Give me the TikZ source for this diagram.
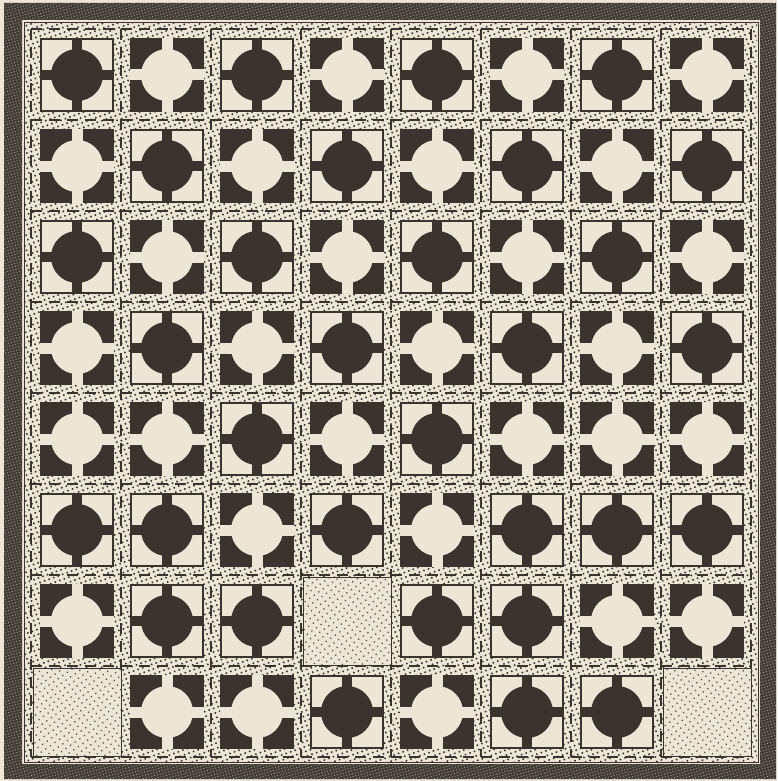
\documentclass[tikz,border=0pt]{standalone}
\usetikzlibrary{patterns.meta}
\definecolor{papier}{HTML}{EDE6D6}
\definecolor{dunkel}{HTML}{3A332E}
\definecolor{rahmen}{HTML}{423C37}
\begin{document}
\begin{tikzpicture}[x=1pt, y=-1pt,
  punkte/.style={pattern={Dots[radius=1.1pt, distance=4.8pt, angle=20]}, pattern color=dunkel},
  feinpunkte/.style={pattern={Dots[radius=0.9pt, distance=5.6pt, angle=35]}, pattern color=dunkel!85!papier},
  schnitt/.style={dunkel, line width=1.3pt, dash pattern=on 11pt off 7pt},
  dstein/.pic={
    \fill[papier] (-37,-37) rectangle (37,37);
    \fill[dunkel] (0,0) circle[radius=26];
    \fill[dunkel] (-5,-37) rectangle (5,37);
    \fill[dunkel] (-37,-5) rectangle (37,5);
    \draw[dunkel, line width=1.6pt] (-36.2,-36.2) rectangle (36.2,36.2);
  },
  hstein/.pic={
    \fill[dunkel] (-37,-37) rectangle (37,37);
    \fill[papier] (0,0) circle[radius=26];
    \fill[papier] (-5.5,-37) rectangle (5.5,37);
    \fill[papier] (-37,-5.5) rectangle (37,5.5);
  },
  leer/.pic={
    \fill[papier] (-44,-44) rectangle (44,44);
    \fill[feinpunkte] (-44,-44) rectangle (44,44);
    \draw[dunkel, line width=0.8pt] (-44,-44) rectangle (44,44);
  }]
  \useasboundingbox (0,0) rectangle (777,781);
  \fill[papier] (0,0) rectangle (777,781);

  % Rahmen
  \fill[rahmen, even odd rule] (4,3) rectangle (776,779) (22,20) rectangle (760,764);
  \fill[pattern={Dots[radius=0.6pt, distance=2.9pt, angle=15]}, pattern color=papier!60!rahmen, even odd rule]
    (4,3) rectangle (776,779) (22,20) rectangle (760,764);
  \draw[dunkel, line width=0.9pt] (24,22) rectangle (758,762);

  % Punktierter Grund
  \fill[punkte] (25,23) rectangle (757,761);

  % Schnittlinien
  \foreach \k in {0,...,8} {
    \draw[schnitt] (31+90*\k,29) -- (31+90*\k,757);
    \draw[schnitt] (31,29+91*\k) -- (751,29+91*\k);
  }

  % Steine: 1 = dunkler Kreis, 2 = heller Kreis, 0 = leer
  \foreach \reihe [count=\j from 0] in {
      {1,2,1,2,1,2,1,2},
      {2,1,2,1,2,1,2,1},
      {1,2,1,2,1,2,1,2},
      {2,1,2,1,2,1,2,1},
      {2,2,1,2,1,2,2,2},
      {1,1,2,1,2,1,1,1},
      {2,1,1,0,1,1,2,2},
      {0,2,2,1,2,1,1,0}} {
    \foreach \t [count=\i from 0] in \reihe {
      \ifnum\t=1 \pic at (77+90*\i,75+91*\j) {dstein};\fi
      \ifnum\t=2 \pic at (77+90*\i,75+91*\j) {hstein};\fi
      \ifnum\t=0 \pic at (77+90*\i,75+91*\j) {leer};\fi
    }
  }
\end{tikzpicture}
\end{document}
